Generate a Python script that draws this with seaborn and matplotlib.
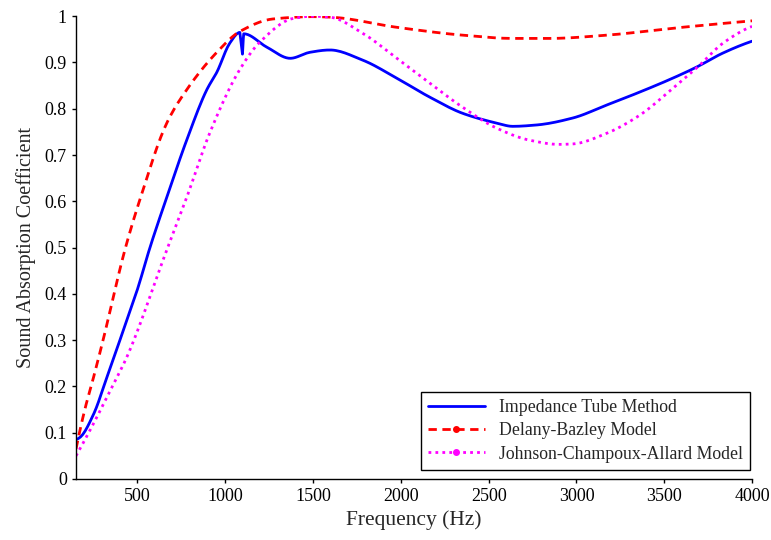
import numpy as np
import pandas as pd
import seaborn as sns
import matplotlib.pyplot as plt
from matplotlib.lines import Line2D

# Impedance tube measurement
tube_freq = [150, 173, 250, 326, 400, 440, 500, 571, 668, 782, 896, 952, 1026, 1083,
             1098, 1105, 1237, 1370, 1482, 1596, 1783, 1977, 2165, 2353, 2546, 2637,
             2774, 2979, 3172, 3360, 3548, 3684, 3832, 4000]
tube_alpha = [0.085, 0.09, 0.14, 0.22, 0.30, 0.344, 0.41, 0.50, 0.61, 0.734, 0.842, 0.879,
              0.942, 0.965, 0.918, 0.962, 0.933, 0.909, 0.922, 0.927, 0.905, 0.866,
              0.825, 0.79, 0.769, 0.762, 0.765, 0.78, 0.808, 0.836, 0.866, 0.89, 0.92, 0.946]

# Delany-Bazley model
db_freq = [150, 200, 250, 304, 429, 514, 668, 782, 952, 1083, 1271, 1500, 1596, 1977,
           2353, 2637, 2848, 3172, 3548, 4000]
db_alpha = [0.065, 0.15, 0.22, 0.30, 0.496, 0.604, 0.77, 0.842, 0.922, 0.967, 0.994,
            0.999, 0.998, 0.976, 0.959, 0.952, 0.952, 0.959, 0.974, 0.99]

# Johnson-Champoux-Allard model
jca_freq = [150, 250, 330, 440, 668, 782, 913, 1083, 1197, 1385, 1500, 1596, 1783, 1977,
            2165, 2353, 2546, 2734, 2900, 2979, 3172, 3360, 3548, 3701, 3832, 4000]
jca_alpha = [0.05, 0.12, 0.18, 0.264, 0.496, 0.61, 0.749, 0.885, 0.944, 0.995, 1.0, 0.998,
             0.963, 0.909, 0.855, 0.803, 0.758, 0.732, 0.723, 0.724, 0.747, 0.786, 0.844,
             0.894, 0.941, 0.978]

labels = ['Impedance Tube Method', 'Delany-Bazley Model', 'Johnson-Champoux-Allard Model']


def smooth(fx, fy, n=400):
    # resample read-off points onto a fine grid (pchip keeps the shape)
    s = pd.Series(fy, index=fx, dtype=float)
    grid = np.linspace(fx[0], fx[-1], n)
    full = s.reindex(sorted(set(list(grid) + list(fx))))
    full = full.interpolate(method='pchip')
    return full.index.values, full.values


def main():
    sns.set_style('ticks')
    plt.rcParams['font.family'] = ['Liberation Serif', 'DejaVu Serif']

    fig = plt.figure(figsize=(7.71, 5.4), dpi=100)
    ax = fig.add_axes([0.0986, 0.113, 0.8768, 0.857])

    tx, ty = smooth(tube_freq, tube_alpha, 300)
    dx, dy = smooth(db_freq, db_alpha)
    jx, jy = smooth(jca_freq, jca_alpha)

    sns.lineplot(x=tx, y=ty, ax=ax, color='#0000ff', linewidth=2, sort=False)
    sns.lineplot(x=dx, y=dy, ax=ax, color='#ff0000', linewidth=2, linestyle=(0, (3, 2)))
    sns.lineplot(x=jx, y=jy, ax=ax, color='#ff00ff', linewidth=2, linestyle=(0, (1, 1.5)))

    ax.set_xlim(150, 4000)
    ax.set_ylim(0, 1)
    ax.set_xticks(np.arange(500, 4001, 500))
    ax.set_yticks(np.arange(0, 1.01, 0.1))
    ax.set_yticklabels(['0'] + [f'{v:.1f}' for v in np.arange(0.1, 0.95, 0.1)] + ['1'])
    ax.tick_params(axis='both', direction='out', length=3, width=1, labelsize=13, colors='black')
    ax.set_xlabel('Frequency (Hz)', fontsize=15.5, labelpad=4)
    ax.set_ylabel('Sound Absorption Coefficient', fontsize=14.5, labelpad=6)
    sns.despine(ax=ax)
    for s in ['left', 'bottom']:
        ax.spines[s].set_color('black')
        ax.spines[s].set_linewidth(1)

    handles = [
        Line2D([], [], color='#0000ff', linewidth=2),
        Line2D([], [], color='#ff0000', linewidth=2, linestyle=(0, (3, 2)), marker='o', markersize=4),
        Line2D([], [], color='#ff00ff', linewidth=2, linestyle=(0, (1, 1.5)), marker='o', markersize=4),
    ]
    leg = ax.legend(handles, labels, loc='lower right', bbox_to_anchor=(0.997, 0.02),
                    fontsize=12.8, frameon=True, fancybox=False, edgecolor='black',
                    framealpha=1, borderaxespad=0, handlelength=3.2, labelspacing=0.35,
                    borderpad=0.4)
    leg.get_frame().set_linewidth(1)

    plt.savefig('out.png', dpi=100)
    plt.close()


if __name__ == "__main__":
    main()
